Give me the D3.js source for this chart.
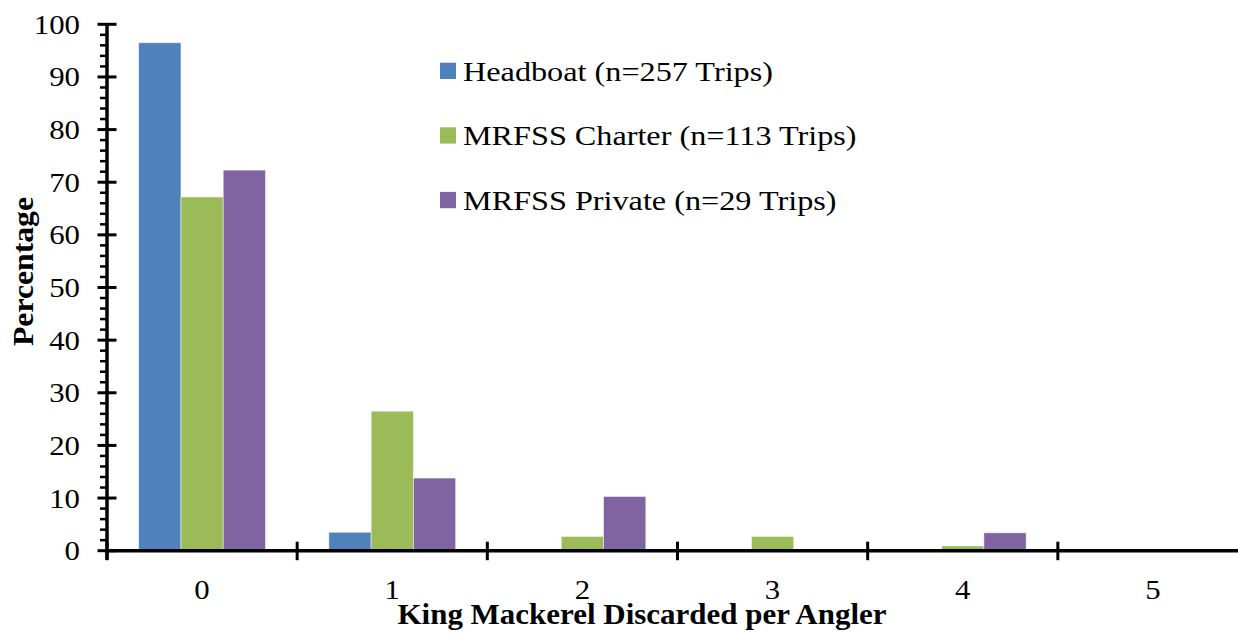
<!DOCTYPE html>
<html>
<head>
<meta charset="utf-8">
<script src="https://d3js.org/d3.v7.min.js"></script>
<style>
  html, body { margin: 0; padding: 0; background: #fff; }
  svg text { font-family: 'Liberation Serif', Tinos, 'Times New Roman', Times, 'DejaVu Serif', serif; }
</style>
</head>
<body>
<svg id="chart" width="1238" height="634"></svg>
<script>
const categories = ["0", "1", "2", "3", "4", "5"];
const seriesNames = ["Headboat (n=257 Trips)", "MRFSS Charter (n=113 Trips)", "MRFSS Private (n=29 Trips)"];
const headboat = [96.5, 3.5, 0, 0, 0, 0];
const charter = [67.2, 26.5, 2.7, 2.7, 0.9, 0];
const privateBoat = [72.3, 13.8, 10.3, 0, 3.4, 0];
const seriesColors = ["#4F81BD", "#9BBB59", "#8064A2"];
const yTicks = [0, 10, 20, 30, 40, 50, 60, 70, 80, 90, 100];
const xTitle = "King Mackerel Discarded per Angler";
const yTitle = "Percentage";

const seriesValues = [headboat, charter, privateBoat];

const svg = d3.select("#chart");
const x0 = 107, x1 = 1248, yBase = 550.7, yTop = 24.3;

// horizontal stretch helper (reference text is wider than its height suggests)
function stretch(sel, sx) {
  sel.each(function () {
    const len = this.getComputedTextLength();
    d3.select(this).attr("textLength", len * sx).attr("lengthAdjust", "spacingAndGlyphs");
  });
}

const x = d3.scaleBand().domain(categories).range([x0, x1]).paddingInner(0).paddingOuter(0);
const y = d3.scaleLinear().domain([0, 100]).range([yBase, yTop]);
const barW = x.bandwidth() / 4.5;
const sub = d3.scaleBand().domain(d3.range(seriesNames.length))
  .range([0, barW * 3]);

// bars
seriesValues.forEach((vals, si) => {
  svg.append("g").selectAll("rect")
    .data(vals.map((v, i) => ({ c: categories[i], v })))
    .join("rect")
    .attr("x", d => x(d.c) + (x.bandwidth() - barW * 3) / 2 + sub(si))
    .attr("y", d => y(d.v))
    .attr("width", barW)
    .attr("height", d => yBase - y(d.v))
    .attr("fill", seriesColors[si])
    .attr("stroke", "#ffffff")
    .attr("stroke-opacity", 0.6)
    .attr("stroke-width", d => d.v > 0 ? 0.8 : 0);
});

// y axis minor ticks
const minor = d3.range(0, 101, 2).filter(v => v % 10 !== 0);
svg.append("g").selectAll("line").data(minor).join("line")
  .attr("x1", x0 - 7).attr("x2", x0)
  .attr("y1", d => y(d)).attr("y2", d => y(d))
  .attr("stroke", "#000").attr("stroke-width", 2.5);

// y axis major ticks (cross)
svg.append("g").selectAll("line").data(yTicks).join("line")
  .attr("x1", x0 - 9.5).attr("x2", x0 + 9.5)
  .attr("y1", d => y(d)).attr("y2", d => y(d))
  .attr("stroke", "#000").attr("stroke-width", 3);

// y axis line
svg.append("line")
  .attr("x1", x0).attr("x2", x0).attr("y1", yTop - 1).attr("y2", yBase + 9)
  .attr("stroke", "#000").attr("stroke-width", 3.5);

// y tick labels
const yl = svg.append("g").selectAll("text").data(yTicks).join("text")
  .attr("x", 80).attr("y", d => y(d) + 9.5)
  .attr("text-anchor", "end")
  .attr("font-size", 27.5).text(d => d);
stretch(yl, 1.12);

// x axis line
svg.append("line")
  .attr("x1", x0).attr("x2", x1).attr("y1", yBase).attr("y2", yBase)
  .attr("stroke", "#000").attr("stroke-width", 3.5);

// x ticks at boundaries
const bounds = categories.map(c => x(c)).concat([x1]);
svg.append("g").selectAll("line").data(bounds).join("line")
  .attr("x1", d => d).attr("x2", d => d)
  .attr("y1", yBase - 9).attr("y2", yBase + 9.5)
  .attr("stroke", "#000").attr("stroke-width", 3);

// x tick labels
const xl = svg.append("g").selectAll("text").data(categories).join("text")
  .attr("x", d => x(d) + x.bandwidth() / 2).attr("y", 599)
  .attr("text-anchor", "middle").attr("font-size", 27.5).text(d => d);
stretch(xl, 1.12);

// axis titles
svg.append("text")
  .attr("x", 642).attr("y", 623.5)
  .attr("text-anchor", "middle").attr("font-size", 29).attr("font-weight", "bold")
  .attr("textLength", 489).attr("lengthAdjust", "spacingAndGlyphs")
  .text(xTitle);

svg.append("text")
  .attr("transform", "translate(33,271.5) rotate(-90)")
  .attr("text-anchor", "middle").attr("font-size", 29).attr("font-weight", "bold")
  .attr("textLength", 149).attr("lengthAdjust", "spacingAndGlyphs")
  .text(yTitle);

// legend
const legendLens = [310, 393.5, 373.5];
const legend = svg.append("g");
seriesNames.forEach((name, i) => {
  const ly = 80.7 + i * 64.6;
  legend.append("rect")
    .attr("x", 440).attr("y", ly - 18).attr("width", 16).attr("height", 16.3)
    .attr("fill", seriesColors[i]);
  legend.append("text")
    .attr("x", 463).attr("y", ly)
    .attr("font-size", 27.7)
    .attr("textLength", legendLens[i]).attr("lengthAdjust", "spacingAndGlyphs")
    .text(name);
});
</script>
</body>
</html>
